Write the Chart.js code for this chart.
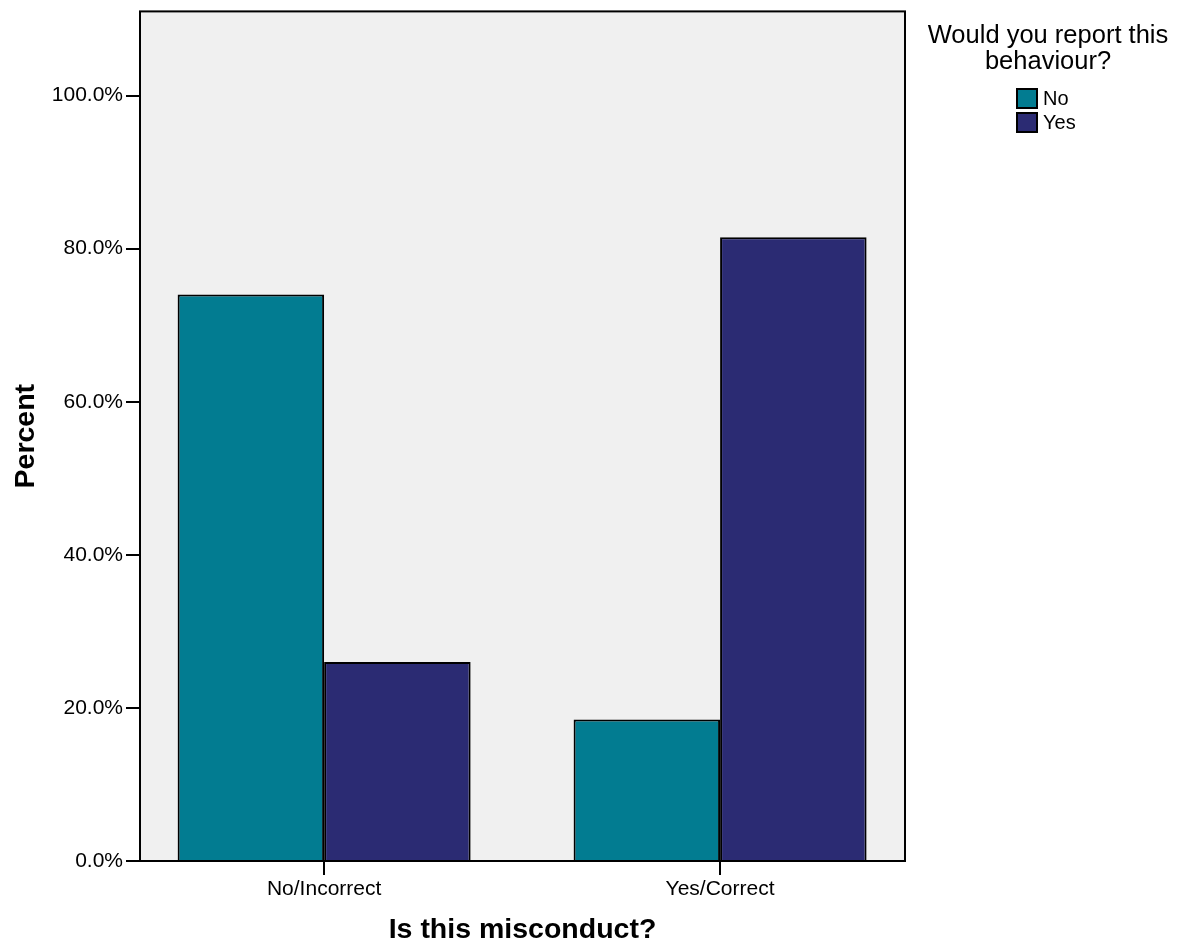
<!DOCTYPE html>
<html>
<head>
<meta charset="utf-8">
<script src="https://cdn.jsdelivr.net/npm/chart.js@4.4.1/dist/chart.umd.min.js"></script>
<style>
  html, body { margin: 0; padding: 0; background: #fff; }
  canvas { display: block; }
</style>
</head>
<body>
<canvas id="misconduct-chart" width="1182" height="944"></canvas>
<script>
// Chart data
const categories = ['No/Incorrect', 'Yes/Correct'];
const seriesNames = ['No', 'Yes'];
const noValues = [74.0, 18.5];
const yesValues = [26.0, 81.5];
const yTicks = [0, 20, 40, 60, 80, 100];
const legendTitle = ['Would you report this', 'behaviour?'];

const FONT = '"Liberation Sans", Arial, sans-serif';
Chart.defaults.font.family = FONT;
Chart.defaults.color = '#000';

/**
 * Grey plot background and black frame around the chart area
 */
const plotFrame = {
    id: 'plotFrame',
    beforeDraw(chart) {
        const { ctx, chartArea: a } = chart;
        ctx.save();
        ctx.fillStyle = '#f0f0f0';
        ctx.fillRect(a.left, a.top, a.right - a.left, a.bottom - a.top);
        ctx.restore();
    },
    afterDatasetsDraw(chart) {
        const { ctx, chartArea: a } = chart;
        ctx.save();
        ctx.strokeStyle = '#000';
        ctx.lineWidth = 2;
        ctx.strokeRect(a.left, a.top, a.right - a.left, a.bottom - a.top);
        ctx.restore();
    }
};

/**
 * Legend on the right side with a two-line title
 */
const sideLegend = {
    id: 'sideLegend',
    afterDraw(chart) {
        const ctx = chart.ctx;
        const cx = chart.chartArea.right + 143;
        ctx.save();
        ctx.fillStyle = '#000';
        ctx.font = '25.5px ' + FONT;
        ctx.textAlign = 'center';
        ctx.textBaseline = 'alphabetic';
        legendTitle.forEach((line, i) => ctx.fillText(line, cx, 43 + i * 26));

        const bx = chart.chartArea.right + 112;
        chart.data.datasets.forEach((ds, i) => {
            const y = 89 + i * 24;
            ctx.fillStyle = ds.backgroundColor;
            ctx.fillRect(bx, y, 20, 19);
            ctx.strokeStyle = '#000';
            ctx.lineWidth = 2;
            ctx.strokeRect(bx, y, 20, 19);
            ctx.fillStyle = '#000';
            ctx.font = '20px ' + FONT;
            ctx.textAlign = 'left';
            ctx.textBaseline = 'middle';
            ctx.fillText(ds.label, bx + 26, y + 10);
        });
        ctx.restore();
    }
};

const ctx = document.getElementById('misconduct-chart').getContext('2d');

new Chart(ctx, {
    type: 'bar',
    data: {
        datasets: [{
            label: seriesNames[0],
            data: noValues.map((v, i) => ({ x: i, y: v })),
            backgroundColor: '#027c91',
            borderColor: '#000',
            borderWidth: 2
        }, {
            label: seriesNames[1],
            data: yesValues.map((v, i) => ({ x: i, y: v })),
            backgroundColor: '#2b2b73',
            borderColor: '#000',
            borderWidth: 2
        }]
    },
    options: {
        responsive: false,
        animation: false,
        categoryPercentage: 0.74,
        barPercentage: 1.0,
        layout: {
            padding: { top: 10, right: 277, left: 0, bottom: 0 }
        },
        scales: {
            x: {
                type: 'linear',
                offset: false,
                min: -0.465,
                max: 1.467,
                afterBuildTicks: scale => {
                    scale.ticks = categories.map((c, i) => ({ value: i }));
                },
                ticks: {
                    callback: value => categories[value],
                    font: { size: 21 },
                    color: '#000',
                    padding: 2,
                    maxRotation: 0
                },
                grid: {
                    offset: false,
                    drawOnChartArea: false,
                    drawTicks: true,
                    tickLength: 14,
                    color: '#000',
                    lineWidth: 2
                },
                border: { display: false },
                title: {
                    display: true,
                    text: 'Is this misconduct?',
                    font: { size: 28.5, weight: 'bold', lineHeight: 1 },
                    color: '#000',
                    padding: { top: 0, bottom: 0 }
                },
                afterFit: scale => { scale.height = 83; }
            },
            y: {
                min: 0,
                max: 111,
                afterBuildTicks: scale => {
                    scale.ticks = yTicks.map(v => ({ value: v }));
                },
                ticks: {
                    callback: value => value.toFixed(1) + '%',
                    font: { size: 21, lineHeight: 0.8 },
                    color: '#000',
                    padding: 3
                },
                grid: {
                    drawOnChartArea: false,
                    drawTicks: true,
                    tickLength: 14,
                    color: '#000',
                    lineWidth: 2
                },
                border: { display: false },
                title: {
                    display: true,
                    text: 'Percent',
                    font: { size: 28.5, weight: 'bold', lineHeight: 1 },
                    color: '#000',
                    padding: { top: 12, bottom: 0 }
                },
                afterFit: scale => { scale.width = 140; }
            }
        },
        plugins: {
            legend: { display: false },
            tooltip: { enabled: false }
        }
    },
    plugins: [plotFrame, sideLegend]
});
</script>
</body>
</html>
